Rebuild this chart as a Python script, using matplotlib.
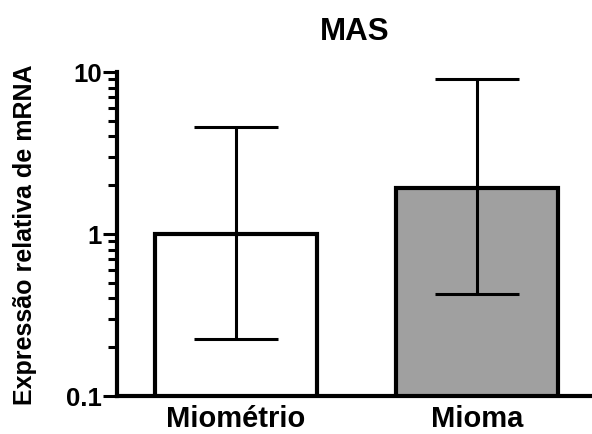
import matplotlib
matplotlib.use("Agg")
import matplotlib.pyplot as plt
from matplotlib.ticker import LogLocator, FixedLocator, FixedFormatter, NullFormatter

categories = ["Miométrio", "Mioma"]
means = [1.0, 1.93]
err_low = [0.225, 0.425]
err_high = [4.6, 9.05]
colors = ["white", "#a0a0a0"]
ytick_vals = [0.1, 1, 10]
ytick_labels = ["0.1", "1", "10"]

plt.rcParams['font.family'] = ['Liberation Sans', 'DejaVu Sans']
plt.rcParams['font.weight'] = 'bold'

fig = plt.figure(figsize=(5.92, 4.35), dpi=100)
ax = fig.add_axes([117/592, 1-397/435, 1-117/592, (397-73)/435])

x = list(range(len(categories)))
ax.bar(x, means, width=0.672, bottom=0, color=colors, edgecolor="black",
       linewidth=3.0, zorder=2)
yerr = [[m - l for m, l in zip(means, err_low)], [h - m for m, h in zip(means, err_high)]]
ax.errorbar(x, means, yerr=yerr, fmt="none", ecolor="black", elinewidth=2.2,
            capsize=30, capthick=2.2, zorder=3)

ax.set_yscale("log")
ax.set_ylim(0.1, 10)
ax.set_xlim(-0.494, 1.477)
ax.yaxis.set_major_locator(FixedLocator(ytick_vals))
ax.yaxis.set_major_formatter(FixedFormatter(ytick_labels))
ax.yaxis.set_minor_locator(LogLocator(base=10, subs=range(2, 10)))
ax.yaxis.set_minor_formatter(NullFormatter())
ax.set_xticks(x)
ax.set_xticklabels(categories, fontsize=21, fontweight="bold")

for s in ["top", "right"]:
    ax.spines[s].set_visible(False)
for s in ["left", "bottom"]:
    ax.spines[s].set_linewidth(3.0)

ax.tick_params(axis="y", which="major", length=10, width=2.2, pad=1, labelsize=18.5)
ax.tick_params(axis="y", which="minor", length=6.5, width=2.2)
ax.tick_params(axis="x", length=0, pad=6)
ax.set_ylabel("Expressão relativa de mRNA", fontsize=18, fontweight="bold", labelpad=21)
ax.set_title("MAS", fontsize=22.5, fontweight="bold", pad=24)

fig.savefig("out.png", dpi=100)
